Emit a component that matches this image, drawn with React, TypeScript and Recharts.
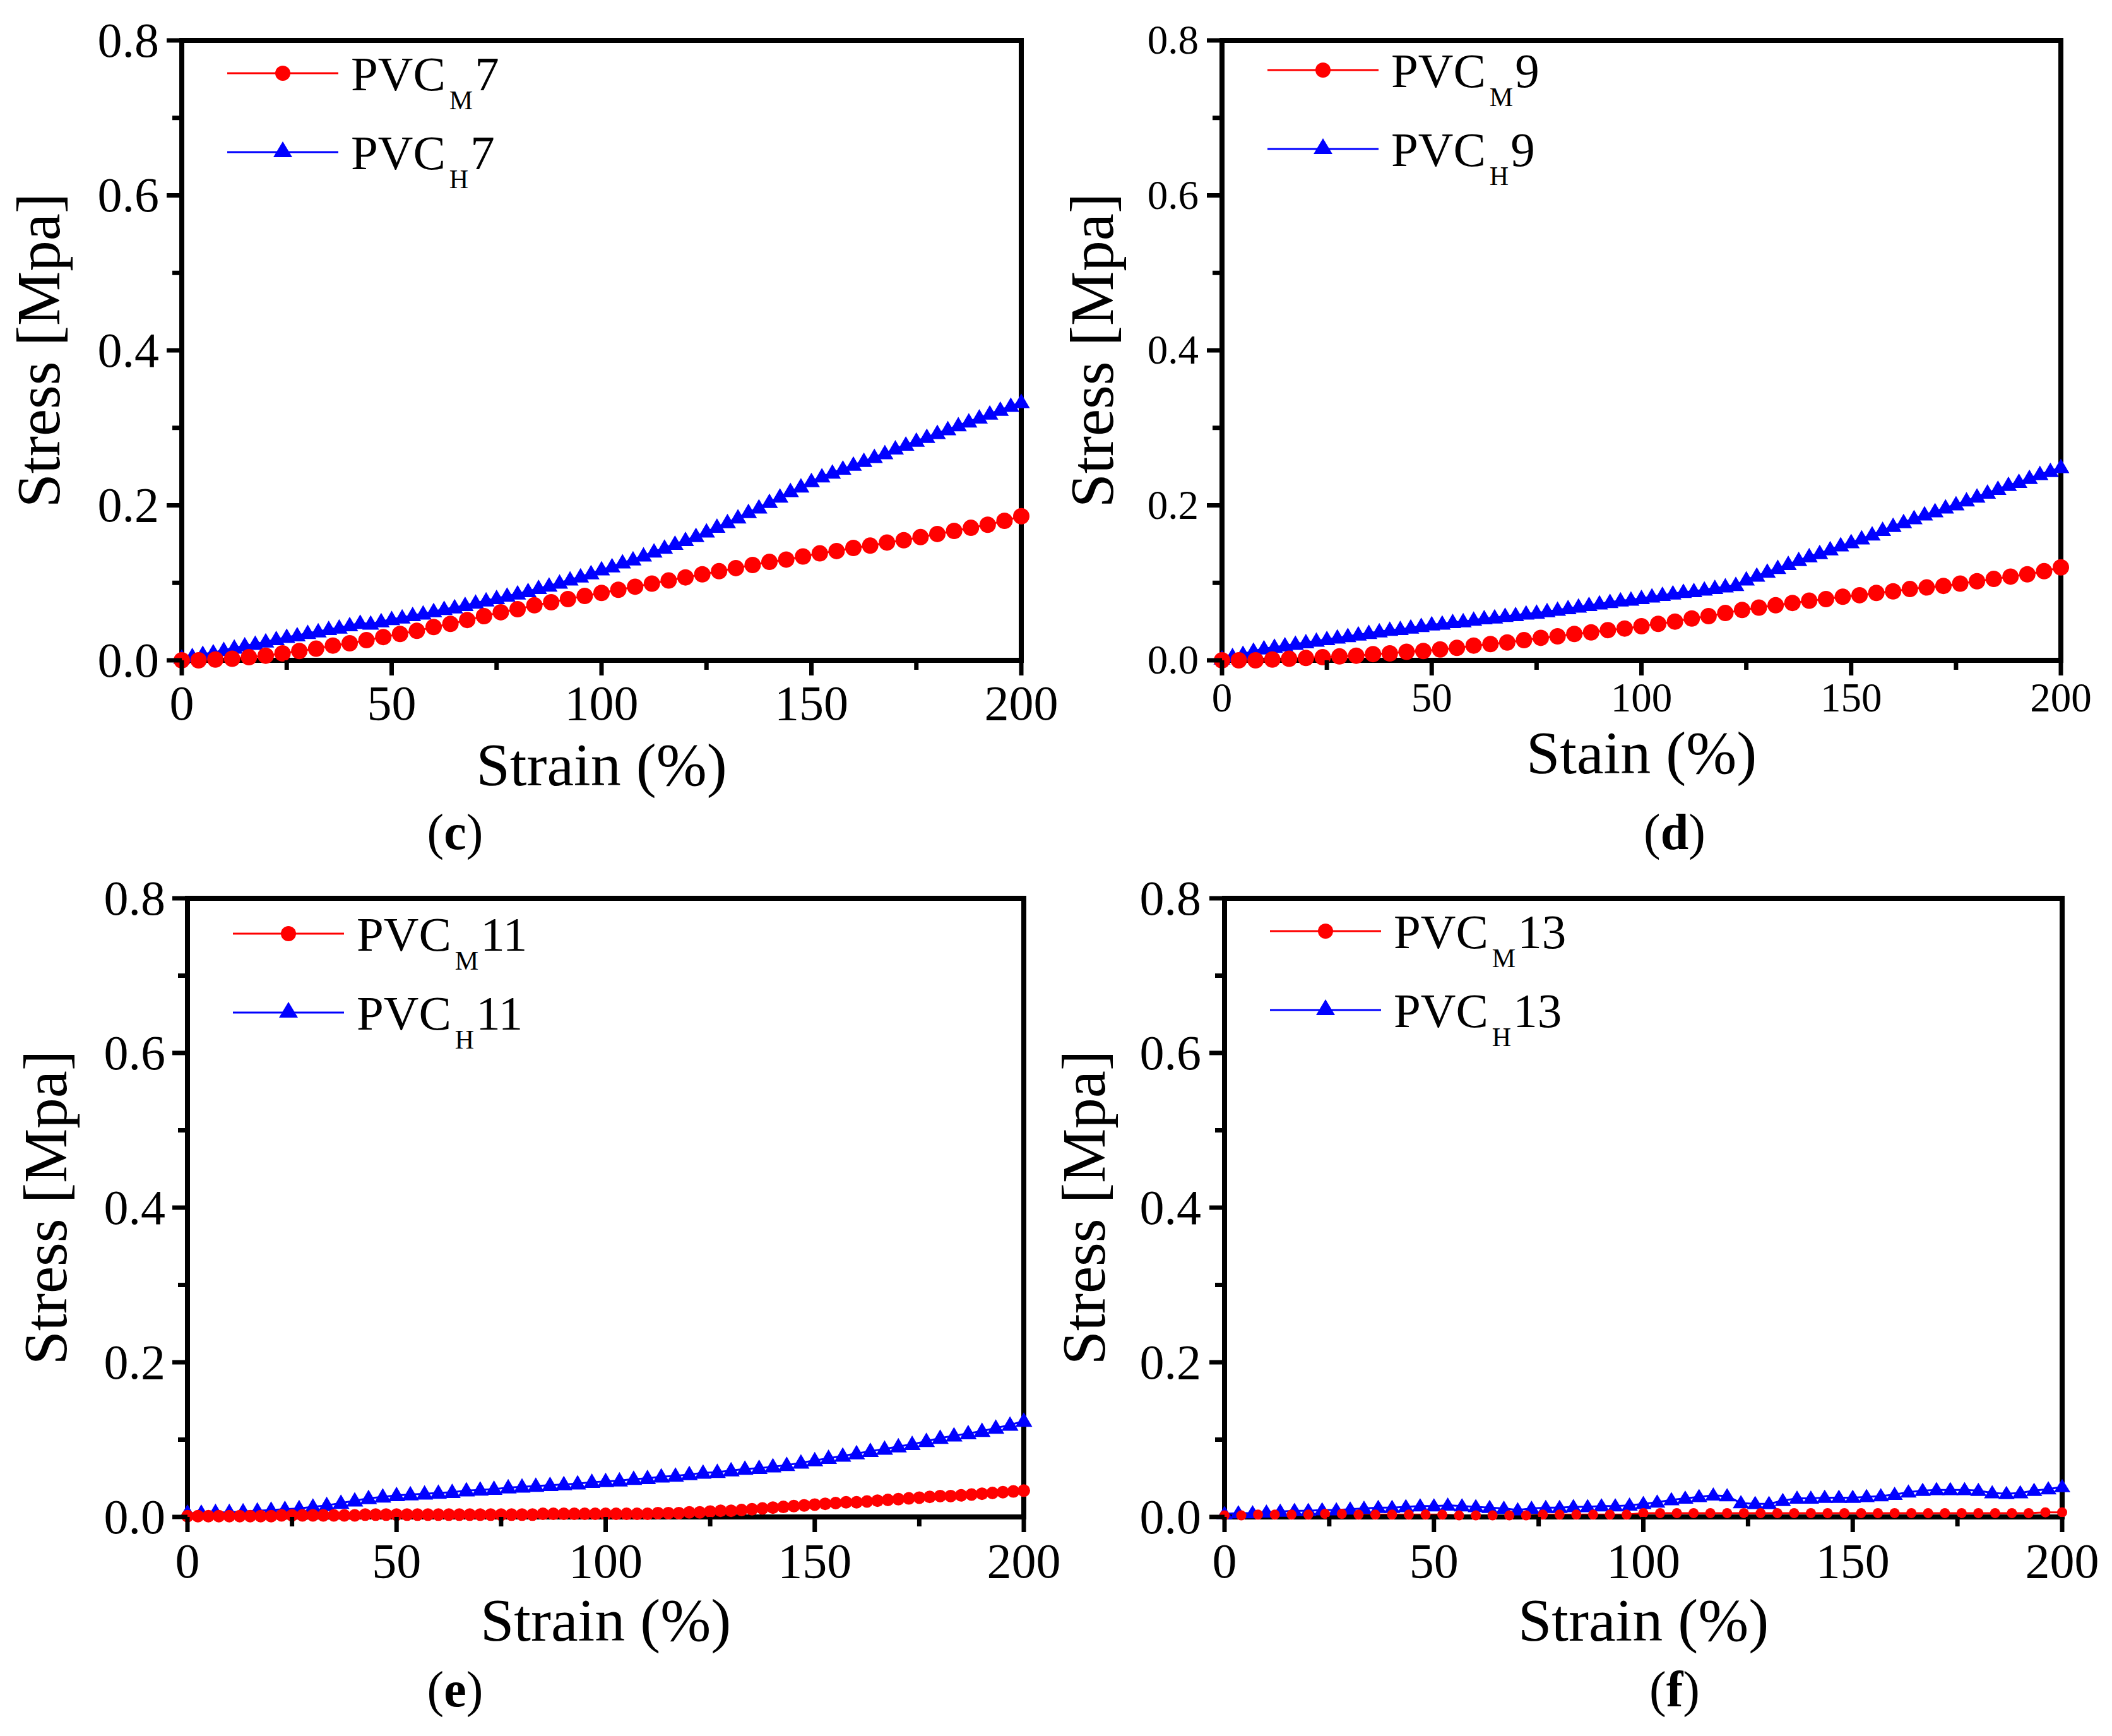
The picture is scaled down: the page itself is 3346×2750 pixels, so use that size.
import React from 'react';
import { LineChart, Line, XAxis, YAxis, ReferenceLine, Legend } from 'recharts';

const STRAIN_A = [
  0, 2.5, 5, 7.5, 10, 12.5, 15, 17.5, 20, 22.5, 25, 27.5, 30, 32.5, 35, 37.5, 40, 42.5, 45, 47.5,
  50, 52.5, 55, 57.5, 60, 62.5, 65, 67.5, 70, 72.5, 75, 77.5, 80, 82.5, 85, 87.5, 90, 92.5, 95, 97.5,
  100, 102.5, 105, 107.5, 110, 112.5, 115, 117.5, 120, 122.5, 125, 127.5, 130, 132.5, 135, 137.5, 140, 142.5, 145, 147.5,
  150, 152.5, 155, 157.5, 160, 162.5, 165, 167.5, 170, 172.5, 175, 177.5, 180, 182.5, 185, 187.5, 190, 192.5, 195, 197.5,
  200,
];
const STRAIN_B = [
  0, 4, 8, 12, 16, 20, 24, 28, 32, 36, 40, 44, 48, 52, 56, 60, 64, 68, 72, 76,
  80, 84, 88, 92, 96, 100, 104, 108, 112, 116, 120, 124, 128, 132, 136, 140, 144, 148, 152, 156,
  160, 164, 168, 172, 176, 180, 184, 188, 192, 196, 200,
];
const STRAIN_C = [
  0, 3.3, 6.7, 10, 13.3, 16.7, 20, 23.3, 26.7, 30, 33.3, 36.7, 40, 43.3, 46.7, 50, 53.3, 56.7, 60, 63.3,
  66.7, 70, 73.3, 76.7, 80, 83.3, 86.7, 90, 93.3, 96.7, 100, 103.3, 106.7, 110, 113.3, 116.7, 120, 123.3, 126.7, 130,
  133.3, 136.7, 140, 143.3, 146.7, 150, 153.3, 156.7, 160, 163.3, 166.7, 170, 173.3, 176.7, 180, 183.3, 186.7, 190, 193.3, 196.7,
  200,
];

// stress (MPa)
const PVC_M7 = [
  0.000, 0.000, 0.001, 0.002, 0.004, 0.006, 0.009, 0.012, 0.015, 0.019, 0.022, 0.026, 0.030, 0.034, 0.038, 0.043, 0.047, 0.052, 0.057, 0.062,
  0.066, 0.071, 0.075, 0.079, 0.083, 0.087, 0.091, 0.095, 0.099, 0.103, 0.107, 0.111, 0.115, 0.119, 0.123, 0.127, 0.130, 0.134, 0.138, 0.141,
  0.145, 0.148, 0.152, 0.155, 0.159, 0.163, 0.167, 0.171, 0.175, 0.180, 0.186,
];
const PVC_H7 = [
  0.003, 0.005, 0.008, 0.010, 0.013, 0.016, 0.019, 0.021, 0.024, 0.027, 0.030, 0.032, 0.035, 0.037, 0.040, 0.042, 0.045, 0.048, 0.047, 0.050,
  0.053, 0.055, 0.058, 0.060, 0.063, 0.066, 0.068, 0.071, 0.074, 0.077, 0.080, 0.083, 0.086, 0.089, 0.093, 0.096, 0.100, 0.104, 0.108, 0.112,
  0.117, 0.121, 0.126, 0.130, 0.135, 0.140, 0.145, 0.150, 0.155, 0.160, 0.166, 0.172, 0.178, 0.184, 0.191, 0.197, 0.204, 0.211, 0.218, 0.224,
  0.231, 0.237, 0.242, 0.247, 0.252, 0.257, 0.262, 0.267, 0.273, 0.278, 0.283, 0.288, 0.293, 0.298, 0.303, 0.308, 0.313, 0.318, 0.323, 0.328,
  0.333,
];
const PVC_M9 = [
  0.000, 0.000, 0.000, 0.001, 0.002, 0.003, 0.004, 0.005, 0.006, 0.008, 0.009, 0.011, 0.012, 0.014, 0.016, 0.019, 0.021, 0.023, 0.026, 0.029,
  0.031, 0.034, 0.036, 0.039, 0.041, 0.044, 0.047, 0.050, 0.054, 0.057, 0.061, 0.065, 0.068, 0.071, 0.074, 0.077, 0.079, 0.082, 0.084, 0.087,
  0.089, 0.092, 0.094, 0.096, 0.099, 0.102, 0.105, 0.108, 0.111, 0.115, 0.120,
];
const PVC_H9 = [
  0.002, 0.005, 0.008, 0.012, 0.015, 0.017, 0.019, 0.021, 0.023, 0.025, 0.027, 0.029, 0.031, 0.033, 0.035, 0.037, 0.039, 0.040, 0.042, 0.044,
  0.046, 0.047, 0.049, 0.050, 0.052, 0.054, 0.055, 0.057, 0.058, 0.060, 0.061, 0.063, 0.065, 0.067, 0.069, 0.071, 0.073, 0.075, 0.077, 0.078,
  0.080, 0.082, 0.084, 0.086, 0.088, 0.089, 0.091, 0.093, 0.095, 0.097, 0.104, 0.109, 0.114, 0.119, 0.124, 0.129, 0.134, 0.138, 0.143, 0.148,
  0.152, 0.157, 0.162, 0.168, 0.173, 0.178, 0.183, 0.188, 0.192, 0.197, 0.201, 0.206, 0.211, 0.216, 0.221, 0.226, 0.230, 0.235, 0.240, 0.244,
  0.249,
];
const PVC_M11 = [
  0.001, 0.001, 0.001, 0.001, 0.001, 0.001, 0.001, 0.001, 0.001, 0.002, 0.002, 0.002, 0.002, 0.002, 0.002, 0.002, 0.002, 0.003, 0.003, 0.003,
  0.003, 0.003, 0.003, 0.003, 0.003, 0.003, 0.003, 0.003, 0.003, 0.003, 0.003, 0.003, 0.003, 0.003, 0.004, 0.004, 0.004, 0.004, 0.004, 0.004,
  0.004, 0.004, 0.004, 0.004, 0.004, 0.005, 0.005, 0.005, 0.006, 0.006, 0.007, 0.008, 0.008, 0.009, 0.010, 0.011, 0.012, 0.013, 0.014, 0.015,
  0.016, 0.017, 0.018, 0.019, 0.019, 0.020, 0.021, 0.022, 0.023, 0.024, 0.025, 0.026, 0.027, 0.027, 0.028, 0.029, 0.030, 0.031, 0.032, 0.033,
  0.034,
];
const PVC_H11 = [
  0.005, 0.005, 0.006, 0.006, 0.007, 0.008, 0.009, 0.010, 0.011, 0.013, 0.015, 0.018, 0.021, 0.024, 0.026, 0.028, 0.029, 0.030, 0.031, 0.032,
  0.034, 0.035, 0.036, 0.038, 0.039, 0.040, 0.041, 0.042, 0.043, 0.045, 0.046, 0.047, 0.049, 0.050, 0.052, 0.053, 0.055, 0.057, 0.058, 0.060,
  0.062, 0.063, 0.065, 0.067, 0.070, 0.073, 0.076, 0.079, 0.082, 0.085, 0.088, 0.091, 0.094, 0.098, 0.102, 0.105, 0.108, 0.111, 0.115, 0.119,
  0.124,
];
const PVC_M13 = [
  0.002, 0.002, 0.003, 0.003, 0.003, 0.003, 0.004, 0.004, 0.003, 0.003, 0.003, 0.003, 0.003, 0.003, 0.002, 0.002, 0.002, 0.002, 0.002, 0.003,
  0.003, 0.003, 0.003, 0.003, 0.003, 0.005, 0.005, 0.005, 0.005, 0.005, 0.005, 0.005, 0.005, 0.005, 0.005, 0.005, 0.005, 0.005, 0.005, 0.005,
  0.005, 0.005, 0.005, 0.005, 0.005, 0.005, 0.005, 0.005, 0.005, 0.006, 0.006,
];
const PVC_H13 = [
  0.004, 0.005, 0.005, 0.006, 0.007, 0.008, 0.008, 0.009, 0.009, 0.010, 0.011, 0.012, 0.012, 0.013, 0.014, 0.014, 0.015, 0.014, 0.013, 0.012,
  0.011, 0.009, 0.011, 0.012, 0.012, 0.013, 0.013, 0.014, 0.014, 0.015, 0.017, 0.019, 0.022, 0.024, 0.026, 0.028, 0.027, 0.018, 0.017, 0.017,
  0.021, 0.024, 0.024, 0.025, 0.025, 0.025, 0.026, 0.027, 0.029, 0.032, 0.034, 0.035, 0.035, 0.035, 0.034, 0.031, 0.030, 0.031, 0.034, 0.036,
  0.039,
];

const X_TICKS = [0, 25, 50, 75, 100, 125, 150, 175, 200];
const Y_TICKS = [0, 0.1, 0.2, 0.3, 0.4, 0.5, 0.6, 0.7, 0.8];

const SERIF = "'Liberation Serif', 'Times New Roman', serif";
const RED = '#ff0000';
const BLUE = '#0000ff';
const AXIS_ROOM = 160;

type Pt = { x: number; y: number };
const zip = (xs: number[], ys: number[]): Pt[] => ys.map((y, i) => ({ x: xs[i], y }));

interface Panel {
  id: string;
  box: { left: number; top: number; width: number; height: number };
  plot: { left: number; top: number; right: number; bottom: number };
  tickFont: number;
  yGap: number;
  xDy: number;
  xTitle: string;
  xTitleY: number;
  yTitleX: number;
  suffix: string;
  legendDy: number;
  caption: string;
  captionY: number;
  red: Pt[];
  blue: Pt[];
  dotR: number;
  triW: number;
  triH: number;
}

const PANELS: Panel[] = [
  {
    id: 'c', box: { left: 0, top: 0, width: 1700, height: 1380 },
    plot: { left: 288, top: 64, right: 1618, bottom: 1046 },
    tickFont: 78, yGap: 36, xDy: 94, xTitle: 'Strain (%)', xTitleY: 1244, yTitleX: 94,
    suffix: '7', legendDy: 52, caption: 'c', captionY: 1345,
    red: zip(STRAIN_B, PVC_M7), blue: zip(STRAIN_A, PVC_H7), dotR: 13, triW: 27, triH: 23,
  },
  {
    id: 'd', box: { left: 1640, top: 0, width: 1706, height: 1380 },
    plot: { left: 1936, top: 64, right: 3265, bottom: 1046 },
    tickFont: 65, yGap: 37, xDy: 81, xTitle: 'Stain (%)', xTitleY: 1225, yTitleX: 1763,
    suffix: '9', legendDy: 47, caption: 'd', captionY: 1345,
    red: zip(STRAIN_B, PVC_M9), blue: zip(STRAIN_A, PVC_H9), dotR: 13, triW: 27, triH: 23,
  },
  {
    id: 'e', box: { left: 0, top: 1380, width: 1700, height: 1370 },
    plot: { left: 297, top: 1423, right: 1622, bottom: 2403 },
    tickFont: 78, yGap: 35, xDy: 96, xTitle: 'Strain (%)', xTitleY: 2599, yTitleX: 105,
    suffix: '11', legendDy: 56, caption: 'e', captionY: 2703,
    red: zip(STRAIN_A, PVC_M11), blue: zip(STRAIN_C, PVC_H11), dotR: 10, triW: 27, triH: 23,
  },
  {
    id: 'f', box: { left: 1640, top: 1380, width: 1706, height: 1370 },
    plot: { left: 1940, top: 1423, right: 3267, bottom: 2403 },
    tickFont: 78, yGap: 37, xDy: 96, xTitle: 'Strain (%)', xTitleY: 2599, yTitleX: 1750,
    suffix: '13', legendDy: 52, caption: 'f', captionY: 2703,
    red: zip(STRAIN_B, PVC_M13), blue: zip(STRAIN_C, PVC_H13), dotR: 8, triW: 26, triH: 21,
  },
];

const triPath = (cx: number, cy: number, w: number, h: number) =>
  `M${cx},${cy - h * 0.6}L${cx + w / 2},${cy + h * 0.4}L${cx - w / 2},${cy + h * 0.4}Z`;

const LegendBox = ({ p }: { p: Panel }) => {
  const rows = [
    { color: RED, sub: 'M', y: p.legendDy },
    { color: BLUE, sub: 'H', y: p.legendDy + 125 },
  ];
  return (
    <svg width={700} height={340} style={{ overflow: 'visible' }}>
      {rows.map((r, i) => (
        <g key={r.sub}>
          <line x1={72} x2={248} y1={r.y} y2={r.y} stroke={r.color} strokeWidth={3} />
          {i === 0 ? (
            <circle cx={160} cy={r.y} r={12} fill={r.color} />
          ) : (
            <path d={triPath(160, r.y - 2, 30, 25)} fill={r.color} />
          )}
          <text x={268} y={r.y + 27} fontSize={77} fontFamily={SERIF} fill="#000">
            PVC
            <tspan fontSize={42} dx={6} dy={30}>{r.sub}</tspan>
            <tspan dx={3} dy={-30}>{p.suffix}</tspan>
          </text>
        </g>
      ))}
    </svg>
  );
};

const PanelChart = ({ p }: { p: Panel }) => {
  const margin = {
    left: p.plot.left - p.box.left - AXIS_ROOM,
    top: p.plot.top - p.box.top,
    right: p.box.left + p.box.width - p.plot.right,
    bottom: p.box.top + p.box.height - p.plot.bottom - AXIS_ROOM,
  };

  const xTick = (t: any) => {
    const v = t.payload.value as number;
    const major = v % 50 === 0;
    return (
      <g key={`x-${v}`}>
        <line x1={t.x} x2={t.x} y1={t.y} y2={t.y + (major ? 24 : 15)} stroke="#000" strokeWidth={7} />
        {major && (
          <text x={t.x} y={t.y + p.xDy} textAnchor="middle" fontSize={p.tickFont} fontFamily={SERIF} fill="#000">
            {v}
          </text>
        )}
      </g>
    );
  };

  const yTick = (t: any) => {
    const v = t.payload.value as number;
    const major = Math.round(v * 10) % 2 === 0;
    return (
      <g key={`y-${v}`}>
        <line x1={t.x} x2={t.x - (major ? 24 : 15)} y1={t.y} y2={t.y} stroke="#000" strokeWidth={7} />
        {major && (
          <text x={t.x - p.yGap} y={t.y + p.tickFont * 0.33} textAnchor="end" fontSize={p.tickFont} fontFamily={SERIF} fill="#000">
            {v.toFixed(1)}
          </text>
        )}
      </g>
    );
  };

  const redDot = (d: any) => <circle key={`r-${d.index}`} cx={d.cx} cy={d.cy} r={p.dotR} fill={RED} />;
  const blueDot = (d: any) => <path key={`b-${d.index}`} d={triPath(d.cx, d.cy, p.triW, p.triH)} fill={BLUE} />;

  return (
    <div style={{ position: 'absolute', left: p.box.left, top: p.box.top }}>
      <LineChart width={p.box.width} height={p.box.height} margin={margin}>
        <XAxis
          type="number"
          dataKey="x"
          domain={[0, 200]}
          ticks={X_TICKS}
          interval={0}
          height={AXIS_ROOM}
          tickSize={0}
          tickMargin={0}
          tickLine={false}
          tick={xTick}
          axisLine={{ stroke: '#000', strokeWidth: 8, strokeLinecap: 'square' }}
        />
        <YAxis
          type="number"
          dataKey="y"
          domain={[0, 0.8]}
          ticks={Y_TICKS}
          interval={0}
          width={AXIS_ROOM}
          tickSize={0}
          tickMargin={0}
          tickLine={false}
          tick={yTick}
          axisLine={{ stroke: '#000', strokeWidth: 8, strokeLinecap: 'square' }}
        />
        <Line
          data={p.blue}
          dataKey="y"
          name={`PVC_H${p.suffix}`}
          stroke={BLUE}
          strokeWidth={3}
          dot={blueDot}
          isAnimationActive={false}
        />
        <Line
          data={p.red}
          dataKey="y"
          name={`PVC_M${p.suffix}`}
          stroke={RED}
          strokeWidth={3}
          dot={redDot}
          isAnimationActive={false}
        />
        <ReferenceLine y={0.8} stroke="#000" strokeWidth={8} strokeLinecap="square" />
        <ReferenceLine x={200} stroke="#000" strokeWidth={8} strokeLinecap="square" />
        <Legend
          layout="horizontal"
          verticalAlign="middle"
          align="center"
          content={() => <LegendBox p={p} />}
          wrapperStyle={{ left: p.plot.left - p.box.left, top: margin.top, width: 700, height: 340 }}
        />
      </LineChart>
    </div>
  );
};

const Titles = () => (
  <svg width={3346} height={2750} style={{ position: 'absolute', left: 0, top: 0, pointerEvents: 'none' }}>
    {PANELS.map((p) => {
      const cx = (p.plot.left + p.plot.right) / 2;
      const cy = (p.plot.top + p.plot.bottom) / 2;
      const capX = p.id === 'c' || p.id === 'e' ? 721 : 2653;
      return (
        <g key={p.id}>
          <text x={cx} y={p.xTitleY} textAnchor="middle" fontSize={96} fontFamily={SERIF} fill="#000">
            {p.xTitle}
          </text>
          <text
            x={p.yTitleX}
            y={cy}
            transform={`rotate(-90 ${p.yTitleX} ${cy})`}
            textAnchor="middle"
            fontSize={97}
            fontFamily={SERIF}
            fill="#000"
          >
            Stress [Mpa]
          </text>
          <text x={capX} y={p.captionY} textAnchor="middle" fontSize={80} fontFamily={SERIF} fill="#000">
            (<tspan fontWeight="bold">{p.caption}</tspan>)
          </text>
        </g>
      );
    })}
  </svg>
);

export default function App() {
  return (
    <div style={{ position: 'absolute', left: 0, top: 0, width: 3346, height: 2750, background: '#fff' }}>
      {PANELS.map((p) => (
        <PanelChart key={p.id} p={p} />
      ))}
      <Titles />
    </div>
  );
}
